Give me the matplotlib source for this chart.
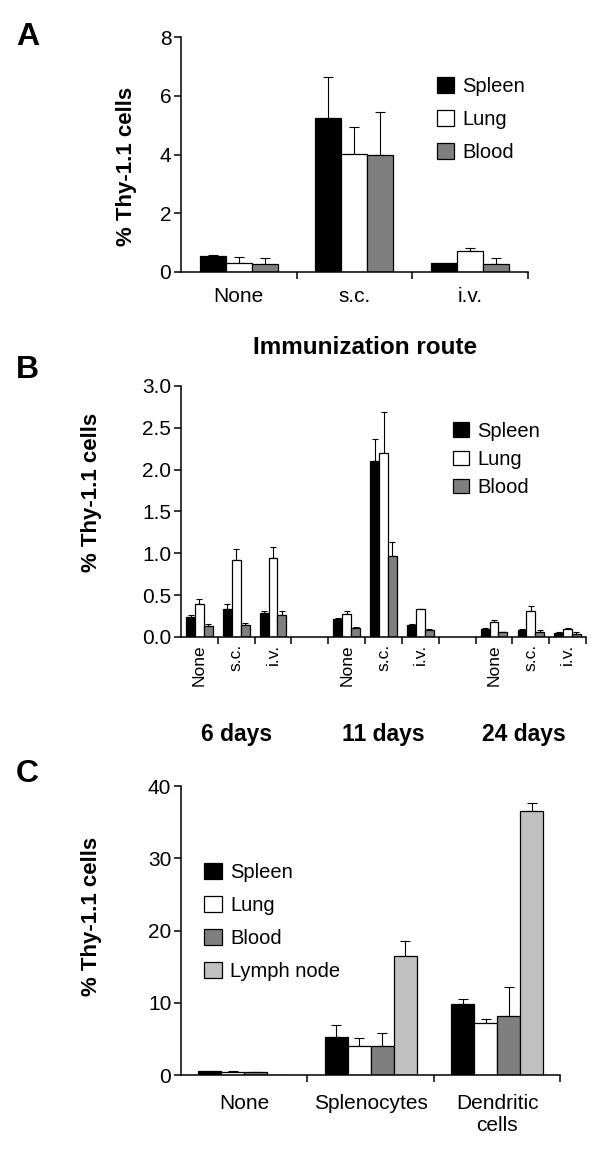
import numpy as np
import matplotlib
matplotlib.use("Agg")
import matplotlib.pyplot as plt
from matplotlib.transforms import blended_transform_factory

plt.rcParams['font.family'] = ['Liberation Sans', 'DejaVu Sans']

# Panel A: immunization route
routes = ["None", "s.c.", "i.v."]
a_spleen = [0.55, 5.25, 0.32]
a_spleen_err = [0.02, 1.39, 0.0]
a_lung = [0.30, 4.03, 0.70]
a_lung_err = [0.20, 0.92, 0.12]
a_blood = [0.28, 3.99, 0.28]
a_blood_err = [0.19, 1.46, 0.19]

# Panel B: route x time
days = ["6 days", "11 days", "24 days"]
b_spleen = [0.24, 0.33, 0.29, 0.21, 2.10, 0.14, 0.10, 0.08, 0.048]
b_spleen_err = [0.02, 0.06, 0.02, 0.02, 0.26, 0.02, 0.01, 0.02, 0.008]
b_lung = [0.40, 0.92, 0.94, 0.28, 2.20, 0.33, 0.175, 0.31, 0.10]
b_lung_err = [0.05, 0.13, 0.13, 0.03, 0.49, 0.01, 0.025, 0.06, 0.005]
b_blood = [0.13, 0.14, 0.26, 0.11, 0.97, 0.08, 0.056, 0.056, 0.03]
b_blood_err = [0.03, 0.03, 0.05, 0.01, 0.16, 0.01, 0.009, 0.024, 0.026]

# Panel C: transferred cell type
cell_types = ["None", "Splenocytes", "Dendritic\ncells"]
c_spleen = [0.6, 5.25, 9.77]
c_spleen_err = [0.0, 1.65, 0.78]
c_lung = [0.41, 4.0, 7.23]
c_lung_err = [0.14, 1.07, 0.51]
c_blood = [0.37, 4.0, 8.16]
c_blood_err = [0.09, 1.76, 4.04]
c_lymph = [0.0, 16.45, 36.5]
c_lymph_err = [0.0, 2.05, 1.15]

colors = {"Spleen": "black", "Lung": "white", "Blood": "#7f7f7f", "Lymph node": "#c0c0c0"}
ylab = "% Thy-1.1 cells"


def draw_bars(ax, x, series, width, cap=3.5):
    n = len(series)
    for k, (name, vals, errs) in enumerate(series):
        xs = np.asarray(x, float) + (k - (n - 1) / 2) * width
        vals = np.asarray(vals, float)
        errs = np.asarray(errs, float)
        ax.bar(xs, vals, width, color=colors[name], edgecolor="black",
               linewidth=0.9, label=name, zorder=2)
        m = errs > 0
        ax.errorbar(xs[m], vals[m], yerr=[np.zeros(m.sum()), errs[m]], fmt="none",
                    ecolor="black", elinewidth=0.8, capsize=cap, capthick=0.8, zorder=1)


def style(ax, nslots, label_pad, xsize=15, rot=0):
    for s in ["top", "right"]:
        ax.spines[s].set_visible(False)
    ax.spines["left"].set_linewidth(1.1)
    ax.spines["bottom"].set_linewidth(1.1)
    ax.set_xlim(-0.5, nslots - 0.5)
    ax.set_xticks(np.arange(0.5, nslots, 1.0), minor=True)
    ax.tick_params(axis="x", which="minor", length=5, width=1.1, direction="out")
    ax.tick_params(axis="x", which="major", length=0, pad=label_pad, labelsize=xsize,
                   labelrotation=rot)
    ax.tick_params(axis="y", length=5, width=1.1, pad=2, labelsize=15)


def ylabel(ax, x, y):
    ax.set_ylabel(ylab, fontsize=16, fontweight="bold")
    ax.yaxis.label.set_va("center")
    ax.yaxis.set_label_coords(x, y)


fig = plt.figure(figsize=(6, 11.5), dpi=100)

# ---- A
axA = fig.add_axes([0.3017, 0.7635, 0.578, 0.2041])
draw_bars(axA, np.arange(3), [("Spleen", a_spleen, a_spleen_err),
                              ("Lung", a_lung, a_lung_err),
                              ("Blood", a_blood, a_blood_err)], 0.225)
style(axA, 3, 11)
axA.set_xticks(np.arange(3))
axA.set_xticklabels(routes)
axA.set_ylim(0, 8)
axA.set_yticks([0, 2, 4, 6, 8])
ylabel(axA, -0.158, 0.45)
axA.legend(loc="upper left", bbox_to_anchor=(0.738, 0.83), frameon=False, fontsize=14.5,
           handlelength=0.85, handleheight=0.85, handletextpad=0.4, labelspacing=0.7,
           borderpad=0, borderaxespad=0)

# ---- B
axB = fig.add_axes([0.3017, 0.4461, 0.675, 0.2183])
slots = [0, 1, 2, 4, 5, 6, 8, 9, 10]
draw_bars(axB, slots, [("Spleen", b_spleen, b_spleen_err),
                       ("Lung", b_lung, b_lung_err),
                       ("Blood", b_blood, b_blood_err)], 0.24, cap=2.4)
style(axB, 11, 5, xsize=12.5, rot=90)
axB.set_xticks(slots)
axB.set_xticklabels(routes * 3)
axB.set_ylim(0, 3)
axB.set_yticks(np.arange(0, 3.01, 0.5))
axB.set_yticklabels(["%.1f" % v for v in np.arange(0, 3.01, 0.5)])
ylabel(axB, -0.222, 0.574)
axB.legend(loc="upper left", bbox_to_anchor=(0.672, 0.858), frameon=False, fontsize=14.5,
           handlelength=0.8, handleheight=0.7, handletextpad=0.4, labelspacing=0.45,
           borderpad=0, borderaxespad=0)
trB = blended_transform_factory(axB.transData, fig.transFigure)
day_x = [slots[1], slots[4], slots[7] - 0.2]
for xd, d in zip(day_x, days):
    axB.text(xd, 0.361, d, transform=trB, ha="center", va="center",
             fontsize=16.5, fontweight="bold")

# ---- C
axC = fig.add_axes([0.3017, 0.0652, 0.632, 0.2513])
draw_bars(axC, np.arange(3), [("Spleen", c_spleen, c_spleen_err),
                              ("Lung", c_lung, c_lung_err),
                              ("Blood", c_blood, c_blood_err),
                              ("Lymph node", c_lymph, c_lymph_err)], 0.182)
style(axC, 3, 14)
axC.set_xticks(np.arange(3))
axC.set_xticklabels(cell_types, linespacing=1.15)
axC.set_ylim(0, 40)
axC.set_yticks([0, 10, 20, 30, 40])
ylabel(axC, -0.237, 0.55)
axC.legend(loc="upper left", bbox_to_anchor=(0.061, 0.735), frameon=False, fontsize=14.5,
           handlelength=0.9, handleheight=0.9, handletextpad=0.4, labelspacing=0.68,
           borderpad=0, borderaxespad=0)

# panel letters and shared labels
for letter, y in [("A", 0.968), ("B", 0.678), ("C", 0.327)]:
    fig.text(0.027, y, letter, fontsize=23, fontweight="bold", va="center", ha="left",
             family=["Liberation Sans Narrow", "DejaVu Sans Condensed", "Liberation Sans"])
fig.text(0.608, 0.698, "Immunization route", fontsize=17.5, fontweight="bold",
         ha="center", va="center")

fig.savefig("out.png", dpi=100)
